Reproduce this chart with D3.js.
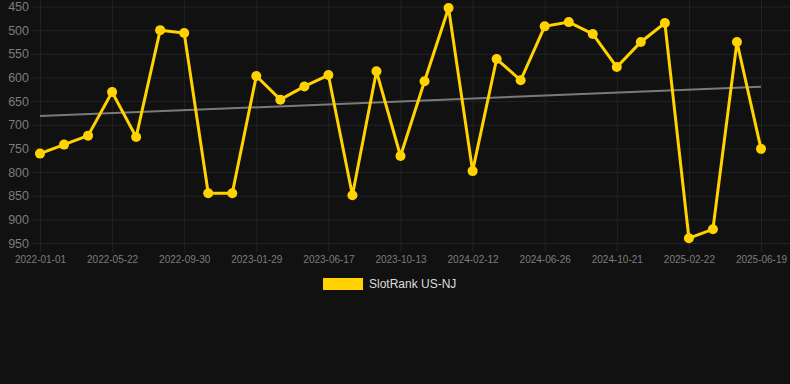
<!DOCTYPE html>
<html>
<head>
<meta charset="utf-8">
<script src="https://cdn.jsdelivr.net/npm/d3@7"></script>
<style>
  body { margin: 0; background: #111111; }
  svg { display: block; font-family: "Liberation Sans", Arial, sans-serif; }
</style>
</head>
<body>
<svg id="chart" width="790" height="384"></svg>
<script>
// categories (only every 3rd label is shown on the axis)
const dates = [
  "2022-01-01", "2022-02-17", "2022-04-05", "2022-05-22", "2022-07-04", "2022-08-17",
  "2022-09-30", "2022-11-09", "2022-12-20", "2023-01-29", "2023-03-15", "2023-05-01",
  "2023-06-17", "2023-07-27", "2023-09-04", "2023-10-13", "2023-11-23", "2024-01-02",
  "2024-02-12", "2024-03-28", "2024-05-12", "2024-06-26", "2024-08-04", "2024-09-12",
  "2024-10-21", "2024-12-01", "2025-01-11", "2025-02-22", "2025-04-01", "2025-05-10",
  "2025-06-19"
];
const rank = [
  761, 742, 723, 631, 726, 500,
  506, 845, 845, 597, 647, 619,
  595, 849, 587, 766, 608, 453,
  798, 561, 606, 492, 483, 508,
  578, 525, 485, 940, 921, 525,
  751
];
const yTicks = [450, 500, 550, 600, 650, 700, 750, 800, 850, 900, 950];
const seriesName = "SlotRank US-NJ";

const svg = d3.select("#chart");
const plotLeft = 40, plotRight = 761, plotTop = 6.5, plotBottom = 243;

const x = d3.scalePoint().domain(dates).range([plotLeft, plotRight]);
const y = d3.scaleLinear().domain([450, 950]).range([plotTop, plotBottom]);

// horizontal grid + y labels
const yAxis = d3.axisLeft(y).tickValues(yTicks).tickSize(-(790 - 31)).tickPadding(2);
svg.append("g")
  .attr("transform", "translate(31,0)")
  .call(yAxis)
  .call(g => g.select(".domain").remove())
  .call(g => g.selectAll("line").attr("stroke", "#232323"))
  .call(g => g.selectAll("text").attr("fill", "#7c7c7c").style("font-size", "12.5px"));

// vertical grid + x labels
const shown = dates.filter((d, i) => i % 3 === 0);
const xAxis = d3.axisBottom(x).tickValues(shown).tickSize(-252).tickPadding(9);
svg.append("g")
  .attr("transform", "translate(0,252)")
  .call(xAxis)
  .call(g => g.select(".domain").remove())
  .call(g => g.selectAll("line").attr("stroke", "#232323"))
  .call(g => g.selectAll("text").attr("fill", "#7c7c7c").style("font-size", "10px").attr("dy", "0.2em"));

// trend line (least squares over index)
const n = rank.length;
const mx = d3.mean(rank, (d, i) => i), my = d3.mean(rank);
const slope = d3.sum(rank, (d, i) => (i - mx) * (d - my)) / d3.sum(rank, (d, i) => (i - mx) ** 2);
const icpt = my - slope * mx;
svg.append("line")
  .attr("x1", x(dates[0])).attr("y1", y(icpt))
  .attr("x2", x(dates[n - 1])).attr("y2", y(icpt + slope * (n - 1)))
  .attr("stroke", "#7a7a7a").attr("stroke-width", 2);

// series line
const line = d3.line().x((d, i) => x(dates[i])).y(d => y(d));
svg.append("path")
  .datum(rank)
  .attr("d", line)
  .attr("fill", "none")
  .attr("stroke", "#ffd200")
  .attr("stroke-width", 3);

svg.selectAll(".pt")
  .data(rank)
  .enter()
  .append("circle")
  .attr("class", "pt")
  .attr("cx", (d, i) => x(dates[i]))
  .attr("cy", d => y(d))
  .attr("r", 5)
  .attr("fill", "#ffd200");

// legend
const lg = svg.append("g").attr("transform", "translate(323,278)");
lg.append("rect").attr("width", 40).attr("height", 12).attr("fill", "#ffd200");
lg.append("text")
  .attr("x", 46).attr("y", 6).attr("dy", "0.35em")
  .attr("fill", "#dddddd").style("font-size", "12px")
  .text(seriesName);
</script>
</body>
</html>
